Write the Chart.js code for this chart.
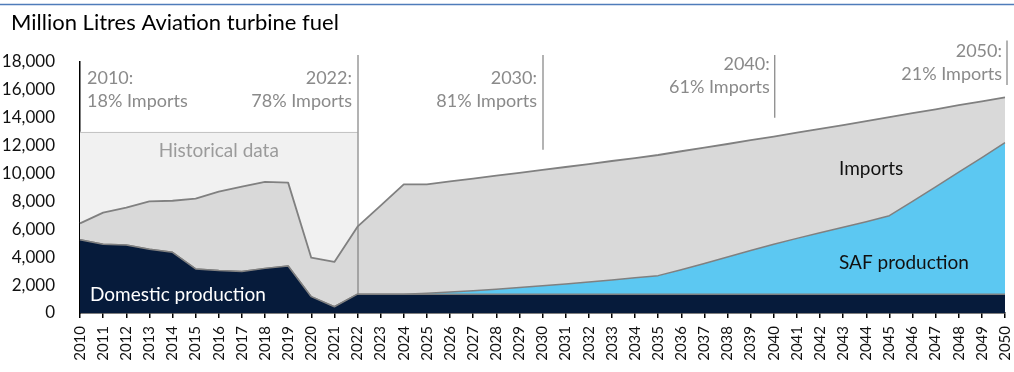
<!DOCTYPE html>
<html>
<head>
<meta charset="utf-8">
<title>Aviation turbine fuel supply</title>
<script src="https://cdn.jsdelivr.net/npm/chart.js@4.4.1/dist/chart.umd.min.js"></script>
<style>
  html, body { margin: 0; padding: 0; background: #ffffff; }
  canvas { display: block; }
</style>
</head>
<body>
<canvas id="c" width="1014" height="372"></canvas>
<script>
// Years on the x axis
const years = ['2010','2011','2012','2013','2014','2015','2016','2017','2018','2019',
  '2020','2021','2022','2023','2024','2025','2026','2027','2028','2029',
  '2030','2031','2032','2033','2034','2035','2036','2037','2038','2039',
  '2040','2041','2042','2043','2044','2045','2046','2047','2048','2049','2050'];

// Million litres, stacked bottom to top
const domestic = [5250, 4930, 4880, 4570, 4350, 3160, 3040, 2970, 3200, 3370,
  1170, 450, 1350, 1350, 1350, 1350, 1350, 1350, 1350, 1350,
  1350, 1350, 1350, 1350, 1350, 1350, 1350, 1350, 1350, 1350,
  1350, 1350, 1350, 1350, 1350, 1350, 1350, 1350, 1350, 1350, 1350];

const saf = [0, 0, 0, 0, 0, 0, 0, 0, 0, 0,
  0, 0, 0, 0, 0, 60, 150, 250, 350, 470,
  600, 730, 870, 1020, 1170, 1330, 1750, 2200, 2670, 3130,
  3580, 4000, 4400, 4800, 5200, 5630, 6650, 7700, 8750, 9800, 10870];

const imports = [1180, 2270, 2670, 3430, 3700, 5040, 5660, 6090, 6200, 5980,
  2800, 3210, 4840, 6350, 7880, 7820, 7940, 8040, 8150, 8230,
  8310, 8390, 8460, 8530, 8590, 8650, 8500, 8310, 8100, 7910,
  7720, 7580, 7450, 7330, 7210, 7070, 6330, 5550, 4800, 4030, 3250];

const yTicks = [0, 2000, 4000, 6000, 8000, 10000, 12000, 14000, 16000, 18000];

// Milestone call-outs: year, first line, second line
const milestones = [
  { year: '2010', head: '2010:', share: '18% Imports' },
  { year: '2022', head: '2022:', share: '78% Imports' },
  { year: '2030', head: '2030:', share: '81% Imports' },
  { year: '2040', head: '2040:', share: '61% Imports' },
  { year: '2050', head: '2050:', share: '21% Imports' }
];
const historicalEnd = '2022';
const historicalTop = 13000;

const FONT = 'Lato, "Noto Sans", sans-serif';
const NAVY = '#061b3b';
const SKY = '#5cc8f2';
const GREY = '#d9d9d9';
const EDGE = '#808080';
const NOTE = '#8a8a8a';

const overlay = {
  id: 'overlay',
  beforeDraw(chart) {
    const ctx = chart.ctx;
    ctx.save();
    ctx.fillStyle = '#ffffff';
    ctx.fillRect(0, 0, chart.width, chart.height);
    // thin rule across the top
    ctx.strokeStyle = '#4f7cba';
    ctx.lineWidth = 1.5;
    ctx.beginPath();
    ctx.moveTo(0, 4.5);
    ctx.lineTo(chart.width, 4.5);
    ctx.stroke();
    // title
    ctx.fillStyle = '#000000';
    ctx.font = '22px ' + FONT;
    ctx.textBaseline = 'alphabetic';
    ctx.textAlign = 'left';
    ctx.fillText('Million Litres Aviation turbine fuel', 11, 30);
    ctx.restore();
  },
  beforeDatasetsDraw(chart) {
    const { ctx, scales: { x, y }, chartArea } = chart;
    const x0 = chartArea.left;
    const x1 = x.getPixelForValue(years.indexOf(historicalEnd));
    const yTop = y.getPixelForValue(historicalTop);
    ctx.save();
    ctx.fillStyle = '#f1f1f1';
    ctx.fillRect(x0, yTop, x1 - x0, chartArea.bottom - yTop);
    ctx.strokeStyle = '#c4c4c4';
    ctx.lineWidth = 1;
    ctx.beginPath();
    ctx.moveTo(x0, Math.round(yTop) + 0.5);
    ctx.lineTo(x1, Math.round(yTop) + 0.5);
    ctx.stroke();
    ctx.fillStyle = '#9b9b9b';
    ctx.font = '19px ' + FONT;
    ctx.textAlign = 'center';
    ctx.fillText('Historical data', (x0 + x1) / 2, yTop + 25);
    ctx.restore();
  },
  afterDatasetsDraw(chart) {
    const { ctx, scales: { x, y } } = chart;
    ctx.save();
    ctx.strokeStyle = EDGE;
    ctx.lineWidth = 1.2;
    const vline = (xi, yA, yB) => {
      ctx.beginPath();
      ctx.moveTo(xi, yA);
      ctx.lineTo(xi, yB);
      ctx.stroke();
    };
    const i22 = years.indexOf('2022');
    vline(x.getPixelForValue(i22) + 0.5, y.getPixelForValue(18500), y.getPixelForValue(domestic[i22]));
    vline(x.getPixelForValue(years.indexOf('2030')) + 0.5, y.getPixelForValue(18500), y.getPixelForValue(11700));
    vline(x.getPixelForValue(years.indexOf('2040')) + 1, y.getPixelForValue(18500), y.getPixelForValue(14000));
    vline(x.getPixelForValue(years.indexOf('2050')) + 2, y.getPixelForValue(19550), y.getPixelForValue(16350));

    // milestone text
    ctx.fillStyle = NOTE;
    ctx.font = '18px ' + FONT;
    ctx.textBaseline = 'alphabetic';
    milestones.forEach(m => {
      const xi = x.getPixelForValue(years.indexOf(m.year));
      let base, tx, align;
      if (m.year === '2010') { tx = xi + 7; align = 'left'; base = 83.5; }
      else if (m.year === '2040') { tx = xi - 4; align = 'right'; base = 70; }
      else if (m.year === '2050') { tx = xi - 3; align = 'right'; base = 57; }
      else { tx = xi - 5.5; align = 'right'; base = 84; }
      ctx.textAlign = align;
      ctx.fillText(m.head, tx, base);
      ctx.fillText(m.share, tx, base + 23);
    });

    // series names
    ctx.font = '19px ' + FONT;
    ctx.textAlign = 'left';
    ctx.fillStyle = '#111111';
    ctx.fillText('Imports', 839, 175);
    ctx.fillText('SAF production', 839, 269);
    ctx.fillStyle = '#ffffff';
    ctx.fillText('Domestic production', 90, 300.5);
    ctx.restore();
  }
};

new Chart(document.getElementById('c'), {
  type: 'line',
  data: {
    labels: years,
    datasets: [
      { label: 'Domestic production', data: domestic, backgroundColor: NAVY, borderColor: EDGE,
        borderWidth: 1.5, fill: 'origin', pointRadius: 0, tension: 0 },
      { label: 'SAF production', data: saf, backgroundColor: SKY, borderColor: EDGE,
        borderWidth: 1.5, fill: '-1', pointRadius: 0, tension: 0 },
      { label: 'Imports', data: imports, backgroundColor: GREY, borderColor: EDGE,
        borderWidth: 1.8, fill: '-1', pointRadius: 0, tension: 0 }
    ]
  },
  options: {
    responsive: false,
    devicePixelRatio: 1,
    animation: false,
    layout: { padding: { top: 62, right: 9, left: 0, bottom: 0 } },
    plugins: {
      legend: { display: false },
      tooltip: { enabled: false },
      title: { display: false }
    },
    elements: { line: { borderJoinStyle: 'round' } },
    scales: {
      x: {
        type: 'category',
        offset: false,
        grid: { display: true, drawOnChartArea: false, drawTicks: true, tickLength: 5, color: '#000000', lineWidth: 1.5 },
        border: { display: true, color: '#000000', width: 1.5 },
        ticks: {
          autoSkip: false, maxRotation: 90, minRotation: 90, padding: 8,
          color: '#111111', font: { family: FONT, size: 15 }
        },
        afterFit(scale) {
          scale.height = 59;
          scale.paddingLeft = 0;
          scale.paddingRight = 0;
        }
      },
      y: {
        stacked: true,
        min: 0, max: 18000,
        afterBuildTicks(scale) { scale.ticks = yTicks.map(v => ({ value: v })); },
        grid: { display: false },
        border: { display: true, color: '#000000', width: 1.5 },
        ticks: {
          padding: 17, color: '#111111', font: { family: FONT, size: 17 },
          callback: v => v.toLocaleString('en-US')
        },
        afterFit(scale) {
          scale.width = 80;
          scale.paddingTop = 0;
          scale.paddingBottom = 0;
        }
      }
    }
  },
  plugins: [overlay]
});
</script>
</body>
</html>
